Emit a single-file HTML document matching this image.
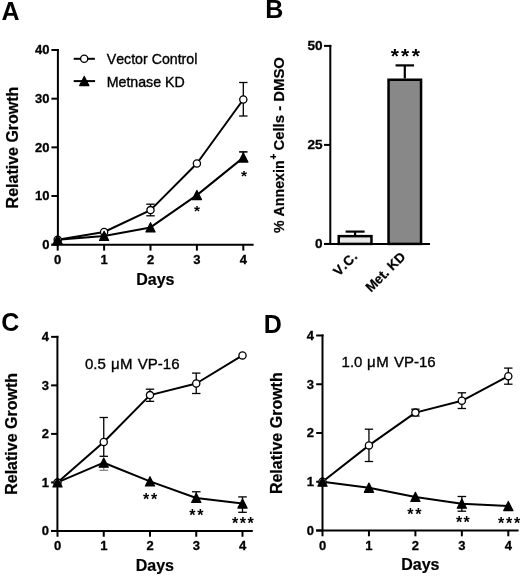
<!DOCTYPE html>
<html><head><meta charset="utf-8"><style>
html,body{margin:0;padding:0;background:#fff;}
svg{display:block;will-change:transform;font-family:"Liberation Sans", sans-serif;font-kerning:none;}
</style></head><body>
<svg width="520" height="576" viewBox="0 0 520 576">
<rect width="520" height="576" fill="#fff"/>
<text x="1.40" y="19.60" font-size="25" font-weight="bold" text-anchor="start" >A</text>
<line x1="57.90" y1="49.00" x2="57.90" y2="245.70" stroke="#000" stroke-width="2"/>
<line x1="51.40" y1="50.00" x2="58.90" y2="50.00" stroke="#000" stroke-width="2"/>
<text x="49.50" y="54.45" font-size="13.0" font-weight="bold" text-anchor="end" stroke="#000" stroke-width="0.3">40</text>
<line x1="51.40" y1="98.68" x2="57.90" y2="98.68" stroke="#000" stroke-width="2"/>
<text x="49.50" y="103.13" font-size="13.0" font-weight="bold" text-anchor="end" stroke="#000" stroke-width="0.3">30</text>
<line x1="51.40" y1="147.35" x2="57.90" y2="147.35" stroke="#000" stroke-width="2"/>
<text x="49.50" y="151.80" font-size="13.0" font-weight="bold" text-anchor="end" stroke="#000" stroke-width="0.3">20</text>
<line x1="51.40" y1="196.02" x2="57.90" y2="196.02" stroke="#000" stroke-width="2"/>
<text x="49.50" y="200.47" font-size="13.0" font-weight="bold" text-anchor="end" stroke="#000" stroke-width="0.3">10</text>
<line x1="51.40" y1="244.70" x2="57.90" y2="244.70" stroke="#000" stroke-width="2"/>
<text x="49.50" y="249.15" font-size="13.0" font-weight="bold" text-anchor="end" stroke="#000" stroke-width="0.3">0</text>
<line x1="51.40" y1="244.70" x2="253.60" y2="244.70" stroke="#000" stroke-width="2"/>
<line x1="57.70" y1="244.70" x2="57.70" y2="250.60" stroke="#000" stroke-width="2"/>
<text x="57.70" y="264.20" font-size="13.0" font-weight="bold" text-anchor="middle" stroke="#000" stroke-width="0.3">0</text>
<line x1="104.10" y1="244.70" x2="104.10" y2="250.60" stroke="#000" stroke-width="2"/>
<text x="104.10" y="264.20" font-size="13.0" font-weight="bold" text-anchor="middle" stroke="#000" stroke-width="0.3">1</text>
<line x1="150.50" y1="244.70" x2="150.50" y2="250.60" stroke="#000" stroke-width="2"/>
<text x="150.50" y="264.20" font-size="13.0" font-weight="bold" text-anchor="middle" stroke="#000" stroke-width="0.3">2</text>
<line x1="196.90" y1="244.70" x2="196.90" y2="250.60" stroke="#000" stroke-width="2"/>
<text x="196.90" y="264.20" font-size="13.0" font-weight="bold" text-anchor="middle" stroke="#000" stroke-width="0.3">3</text>
<line x1="243.30" y1="244.70" x2="243.30" y2="250.60" stroke="#000" stroke-width="2"/>
<text x="243.30" y="264.20" font-size="13.0" font-weight="bold" text-anchor="middle" stroke="#000" stroke-width="0.3">4</text>
<text x="155.40" y="284.70" font-size="16" font-weight="bold" text-anchor="middle" stroke="#000" stroke-width="0.2">Days</text>
<text transform="translate(17.5,147.5) rotate(-90)" font-size="16" font-weight="bold" text-anchor="middle" stroke="#000" stroke-width="0.2">Relative Growth</text>
<line x1="150.50" y1="210.10" x2="150.50" y2="204.20" stroke="#000" stroke-width="1.3"/>
<line x1="146.30" y1="204.20" x2="154.70" y2="204.20" stroke="#000" stroke-width="1.3"/>
<line x1="150.50" y1="210.10" x2="150.50" y2="215.80" stroke="#000" stroke-width="1.3"/>
<line x1="146.30" y1="215.80" x2="154.70" y2="215.80" stroke="#000" stroke-width="1.3"/>
<line x1="243.30" y1="99.50" x2="243.30" y2="82.50" stroke="#000" stroke-width="1.3"/>
<line x1="239.10" y1="82.50" x2="247.50" y2="82.50" stroke="#000" stroke-width="1.3"/>
<line x1="243.30" y1="99.50" x2="243.30" y2="116.00" stroke="#000" stroke-width="1.3"/>
<line x1="239.10" y1="116.00" x2="247.50" y2="116.00" stroke="#000" stroke-width="1.3"/>
<line x1="243.30" y1="157.60" x2="243.30" y2="151.90" stroke="#000" stroke-width="1.6"/>
<line x1="239.10" y1="151.90" x2="247.50" y2="151.90" stroke="#000" stroke-width="1.6"/>
<polyline points="57.70,239.80 104.10,232.00 150.50,210.10 196.90,163.50 243.30,99.50" fill="none" stroke="#000" stroke-width="2" stroke-linejoin="round"/>
<polyline points="57.70,239.80 104.10,236.00 150.50,227.40 196.90,195.10 243.30,157.60" fill="none" stroke="#000" stroke-width="2" stroke-linejoin="round"/>
<circle cx="57.70" cy="239.80" r="3.6" fill="#fff" stroke="#000" stroke-width="1.3"/>
<circle cx="104.10" cy="232.00" r="3.6" fill="#fff" stroke="#000" stroke-width="1.3"/>
<circle cx="150.50" cy="210.10" r="3.6" fill="#fff" stroke="#000" stroke-width="1.3"/>
<circle cx="196.90" cy="163.50" r="3.6" fill="#fff" stroke="#000" stroke-width="1.3"/>
<circle cx="243.30" cy="99.50" r="3.6" fill="#fff" stroke="#000" stroke-width="1.3"/>
<polygon points="57.70,235.10 62.30,244.30 53.10,244.30" fill="#000" stroke="#000" stroke-width="1.2" stroke-linejoin="round"/>
<polygon points="104.10,231.30 108.70,240.50 99.50,240.50" fill="#000" stroke="#000" stroke-width="1.2" stroke-linejoin="round"/>
<polygon points="150.50,222.70 155.10,231.90 145.90,231.90" fill="#000" stroke="#000" stroke-width="1.2" stroke-linejoin="round"/>
<polygon points="196.90,190.40 201.50,199.60 192.30,199.60" fill="#000" stroke="#000" stroke-width="1.2" stroke-linejoin="round"/>
<polygon points="243.30,152.90 247.90,162.10 238.70,162.10" fill="#000" stroke="#000" stroke-width="1.2" stroke-linejoin="round"/>
<text x="194.02" y="216.18" font-size="15.5" font-weight="bold" text-anchor="start" >*</text>
<text x="241.12" y="181.03" font-size="15.5" font-weight="bold" text-anchor="start" >*</text>
<line x1="73.70" y1="58.80" x2="94.90" y2="58.80" stroke="#000" stroke-width="2"/>
<circle cx="84.20" cy="58.80" r="3.6" fill="#fff" stroke="#000" stroke-width="1.3"/>
<line x1="73.70" y1="81.10" x2="95.10" y2="81.10" stroke="#000" stroke-width="2"/>
<polygon points="84.25,76.40 88.85,85.60 79.65,85.60" fill="#000" stroke="#000" stroke-width="1.2" stroke-linejoin="round"/>
<text x="106.70" y="64.00" font-size="14.2" font-weight="normal" text-anchor="start" stroke="#000" stroke-width="0.35">Vector Control</text>
<text x="106.70" y="86.60" font-size="14.2" font-weight="normal" text-anchor="start" stroke="#000" stroke-width="0.35">Metnase KD</text>
<text x="265.30" y="18.40" font-size="25" font-weight="bold" text-anchor="start" >B</text>
<line x1="330.30" y1="44.90" x2="330.30" y2="244.90" stroke="#000" stroke-width="2"/>
<line x1="324.00" y1="45.90" x2="331.30" y2="45.90" stroke="#000" stroke-width="2"/>
<text x="322.60" y="49.76" font-size="13.6" font-weight="bold" text-anchor="end" stroke="#000" stroke-width="0.3">50</text>
<line x1="324.00" y1="144.90" x2="330.30" y2="144.90" stroke="#000" stroke-width="2"/>
<text x="322.60" y="148.76" font-size="13.6" font-weight="bold" text-anchor="end" stroke="#000" stroke-width="0.3">25</text>
<line x1="324.00" y1="243.90" x2="330.30" y2="243.90" stroke="#000" stroke-width="2"/>
<text x="322.60" y="247.76" font-size="13.6" font-weight="bold" text-anchor="end" stroke="#000" stroke-width="0.3">0</text>
<line x1="324.00" y1="243.90" x2="430.00" y2="243.90" stroke="#000" stroke-width="2"/>
<rect x="338.75" y="236.15" width="32.7" height="7.75" fill="#e9e9e9" stroke="#000" stroke-width="2.5"/>
<rect x="388.55" y="79.75" width="32.5" height="164.15" fill="#888" stroke="#000" stroke-width="2.5"/>
<line x1="355.10" y1="235.00" x2="355.10" y2="231.60" stroke="#000" stroke-width="2.2"/>
<line x1="345.60" y1="231.60" x2="364.60" y2="231.60" stroke="#000" stroke-width="2.2"/>
<line x1="404.80" y1="78.50" x2="404.80" y2="65.40" stroke="#000" stroke-width="2.2"/>
<line x1="395.55" y1="65.40" x2="414.05" y2="65.40" stroke="#000" stroke-width="2.2"/>
<text x="390.66" y="62.61" font-size="21" font-weight="bold" text-anchor="start" >*</text>
<text x="401.11" y="62.61" font-size="21" font-weight="bold" text-anchor="start" >*</text>
<text x="411.66" y="62.61" font-size="21" font-weight="bold" text-anchor="start" >*</text>
<text transform="translate(338.76,276.68) rotate(-45)" font-size="13.4" font-weight="bold" letter-spacing="0.4" stroke="#000" stroke-width="0.25">V.C.</text>
<text transform="translate(370.98,292.82) rotate(-45)" font-size="13.4" font-weight="bold" stroke="#000" stroke-width="0.25">Met. KD</text>
<text transform="translate(284.3,0) rotate(-90)" font-size="14.5" font-weight="bold" stroke="#000" stroke-width="0.2"><tspan x="-232.95" y="0" font-size="14.2">% Annexin</tspan><tspan x="-159.6" y="-7.0" font-size="10">+</tspan><tspan x="-150.6" y="0" font-size="14.9">Cells - DMSO</tspan></text>
<text x="1.20" y="330.75" font-size="25" font-weight="bold" text-anchor="start" >C</text>
<line x1="57.40" y1="335.85" x2="57.40" y2="531.95" stroke="#000" stroke-width="2"/>
<line x1="51.10" y1="336.85" x2="58.40" y2="336.85" stroke="#000" stroke-width="2"/>
<text x="49.10" y="341.30" font-size="13.0" font-weight="bold" text-anchor="end" stroke="#000" stroke-width="0.3">4</text>
<line x1="51.10" y1="385.38" x2="57.40" y2="385.38" stroke="#000" stroke-width="2"/>
<text x="49.10" y="389.83" font-size="13.0" font-weight="bold" text-anchor="end" stroke="#000" stroke-width="0.3">3</text>
<line x1="51.10" y1="433.90" x2="57.40" y2="433.90" stroke="#000" stroke-width="2"/>
<text x="49.10" y="438.35" font-size="13.0" font-weight="bold" text-anchor="end" stroke="#000" stroke-width="0.3">2</text>
<line x1="51.10" y1="482.43" x2="57.40" y2="482.43" stroke="#000" stroke-width="2"/>
<text x="49.10" y="486.88" font-size="13.0" font-weight="bold" text-anchor="end" stroke="#000" stroke-width="0.3">1</text>
<line x1="51.10" y1="530.95" x2="57.40" y2="530.95" stroke="#000" stroke-width="2"/>
<text x="49.10" y="535.40" font-size="13.0" font-weight="bold" text-anchor="end" stroke="#000" stroke-width="0.3">0</text>
<line x1="51.10" y1="530.95" x2="252.80" y2="530.95" stroke="#000" stroke-width="2"/>
<line x1="57.50" y1="530.95" x2="57.50" y2="536.75" stroke="#000" stroke-width="2"/>
<text x="57.50" y="550.35" font-size="13.0" font-weight="bold" text-anchor="middle" stroke="#000" stroke-width="0.3">0</text>
<line x1="103.75" y1="530.95" x2="103.75" y2="536.75" stroke="#000" stroke-width="2"/>
<text x="103.75" y="550.35" font-size="13.0" font-weight="bold" text-anchor="middle" stroke="#000" stroke-width="0.3">1</text>
<line x1="150.00" y1="530.95" x2="150.00" y2="536.75" stroke="#000" stroke-width="2"/>
<text x="150.00" y="550.35" font-size="13.0" font-weight="bold" text-anchor="middle" stroke="#000" stroke-width="0.3">2</text>
<line x1="196.25" y1="530.95" x2="196.25" y2="536.75" stroke="#000" stroke-width="2"/>
<text x="196.25" y="550.35" font-size="13.0" font-weight="bold" text-anchor="middle" stroke="#000" stroke-width="0.3">3</text>
<line x1="242.50" y1="530.95" x2="242.50" y2="536.75" stroke="#000" stroke-width="2"/>
<text x="242.50" y="550.35" font-size="13.0" font-weight="bold" text-anchor="middle" stroke="#000" stroke-width="0.3">4</text>
<text x="154.90" y="570.55" font-size="16" font-weight="bold" text-anchor="middle" stroke="#000" stroke-width="0.2">Days</text>
<text transform="translate(17.3,433.9) rotate(-90)" font-size="16" font-weight="bold" text-anchor="middle" stroke="#000" stroke-width="0.2">Relative Growth</text>
<line x1="103.75" y1="442.00" x2="103.75" y2="417.50" stroke="#000" stroke-width="1.3"/>
<line x1="99.55" y1="417.50" x2="107.95" y2="417.50" stroke="#000" stroke-width="1.3"/>
<line x1="103.75" y1="442.00" x2="103.75" y2="456.30" stroke="#000" stroke-width="1.3"/>
<line x1="99.55" y1="456.30" x2="107.95" y2="456.30" stroke="#000" stroke-width="1.3"/>
<line x1="150.00" y1="395.10" x2="150.00" y2="389.20" stroke="#000" stroke-width="1.3"/>
<line x1="145.80" y1="389.20" x2="154.20" y2="389.20" stroke="#000" stroke-width="1.3"/>
<line x1="150.00" y1="395.10" x2="150.00" y2="401.35" stroke="#000" stroke-width="1.3"/>
<line x1="145.80" y1="401.35" x2="154.20" y2="401.35" stroke="#000" stroke-width="1.3"/>
<line x1="196.25" y1="383.50" x2="196.25" y2="373.10" stroke="#000" stroke-width="1.3"/>
<line x1="192.05" y1="373.10" x2="200.45" y2="373.10" stroke="#000" stroke-width="1.3"/>
<line x1="196.25" y1="383.50" x2="196.25" y2="393.50" stroke="#000" stroke-width="1.3"/>
<line x1="192.05" y1="393.50" x2="200.45" y2="393.50" stroke="#000" stroke-width="1.3"/>
<line x1="103.75" y1="462.70" x2="103.75" y2="470.30" stroke="#888" stroke-width="1.3"/>
<line x1="99.45" y1="470.30" x2="108.05" y2="470.30" stroke="#888" stroke-width="1.3"/>
<line x1="196.25" y1="498.00" x2="196.25" y2="491.80" stroke="#000" stroke-width="1.3"/>
<line x1="191.95" y1="491.80" x2="200.55" y2="491.80" stroke="#000" stroke-width="1.3"/>
<line x1="242.50" y1="503.60" x2="242.50" y2="496.90" stroke="#000" stroke-width="1.3"/>
<line x1="238.20" y1="496.90" x2="246.80" y2="496.90" stroke="#000" stroke-width="1.3"/>
<line x1="242.50" y1="503.60" x2="242.50" y2="512.30" stroke="#000" stroke-width="1.3"/>
<line x1="238.20" y1="512.30" x2="246.80" y2="512.30" stroke="#000" stroke-width="1.3"/>
<polyline points="57.50,482.40 103.75,442.00 150.00,395.10 196.25,383.50 242.50,355.40" fill="none" stroke="#000" stroke-width="2" stroke-linejoin="round"/>
<polyline points="57.50,482.40 103.75,462.70 150.00,481.40 196.25,498.00 242.50,503.60" fill="none" stroke="#000" stroke-width="2" stroke-linejoin="round"/>
<circle cx="57.50" cy="482.40" r="3.6" fill="#fff" stroke="#000" stroke-width="1.3"/>
<circle cx="103.75" cy="442.00" r="3.6" fill="#fff" stroke="#000" stroke-width="1.3"/>
<circle cx="150.00" cy="395.10" r="3.6" fill="#fff" stroke="#000" stroke-width="1.3"/>
<circle cx="196.25" cy="383.50" r="3.6" fill="#fff" stroke="#000" stroke-width="1.3"/>
<circle cx="242.50" cy="355.40" r="3.6" fill="#fff" stroke="#000" stroke-width="1.3"/>
<polygon points="57.50,477.70 62.10,486.90 52.90,486.90" fill="#000" stroke="#000" stroke-width="1.2" stroke-linejoin="round"/>
<polygon points="103.75,458.00 108.35,467.20 99.15,467.20" fill="#000" stroke="#000" stroke-width="1.2" stroke-linejoin="round"/>
<polygon points="150.00,476.70 154.60,485.90 145.40,485.90" fill="#000" stroke="#000" stroke-width="1.2" stroke-linejoin="round"/>
<polygon points="196.25,493.30 200.85,502.50 191.65,502.50" fill="#000" stroke="#000" stroke-width="1.2" stroke-linejoin="round"/>
<polygon points="242.50,498.90 247.10,508.10 237.90,508.10" fill="#000" stroke="#000" stroke-width="1.2" stroke-linejoin="round"/>
<text x="143.07" y="504.54" font-size="16" font-weight="bold" text-anchor="start" >*</text>
<text x="151.12" y="504.54" font-size="16" font-weight="bold" text-anchor="start" >*</text>
<text x="189.32" y="520.54" font-size="16" font-weight="bold" text-anchor="start" >*</text>
<text x="197.32" y="520.54" font-size="16" font-weight="bold" text-anchor="start" >*</text>
<text x="232.02" y="529.14" font-size="16" font-weight="bold" text-anchor="start" >*</text>
<text x="239.82" y="529.14" font-size="16" font-weight="bold" text-anchor="start" >*</text>
<text x="247.62" y="529.14" font-size="16" font-weight="bold" text-anchor="start" >*</text>
<text x="84.90" y="369.20" font-size="15" font-weight="normal" text-anchor="start" stroke="#000" stroke-width="0.35">0.5</text>
<text x="110.90" y="369.20" font-size="15" font-weight="normal" text-anchor="start" stroke="#000" stroke-width="0.35">μ</text>
<text x="119.90" y="369.20" font-size="15" font-weight="normal" text-anchor="start" stroke="#000" stroke-width="0.35">M</text>
<text x="137.80" y="369.20" font-size="15" font-weight="normal" text-anchor="start" stroke="#000" stroke-width="0.35">VP-16</text>
<text x="263.70" y="332.80" font-size="25" font-weight="bold" text-anchor="start" >D</text>
<line x1="322.50" y1="334.50" x2="322.50" y2="531.50" stroke="#000" stroke-width="2"/>
<line x1="316.20" y1="335.50" x2="323.50" y2="335.50" stroke="#000" stroke-width="2"/>
<text x="314.00" y="339.95" font-size="13.0" font-weight="bold" text-anchor="end" stroke="#000" stroke-width="0.3">4</text>
<line x1="316.20" y1="384.25" x2="322.50" y2="384.25" stroke="#000" stroke-width="2"/>
<text x="314.00" y="388.70" font-size="13.0" font-weight="bold" text-anchor="end" stroke="#000" stroke-width="0.3">3</text>
<line x1="316.20" y1="433.00" x2="322.50" y2="433.00" stroke="#000" stroke-width="2"/>
<text x="314.00" y="437.45" font-size="13.0" font-weight="bold" text-anchor="end" stroke="#000" stroke-width="0.3">2</text>
<line x1="316.20" y1="481.75" x2="322.50" y2="481.75" stroke="#000" stroke-width="2"/>
<text x="314.00" y="486.20" font-size="13.0" font-weight="bold" text-anchor="end" stroke="#000" stroke-width="0.3">1</text>
<line x1="316.20" y1="530.50" x2="322.50" y2="530.50" stroke="#000" stroke-width="2"/>
<text x="314.00" y="534.95" font-size="13.0" font-weight="bold" text-anchor="end" stroke="#000" stroke-width="0.3">0</text>
<line x1="316.20" y1="530.50" x2="518.60" y2="530.50" stroke="#000" stroke-width="2"/>
<line x1="322.50" y1="530.50" x2="322.50" y2="536.30" stroke="#000" stroke-width="2"/>
<text x="322.50" y="549.90" font-size="13.0" font-weight="bold" text-anchor="middle" stroke="#000" stroke-width="0.3">0</text>
<line x1="368.95" y1="530.50" x2="368.95" y2="536.30" stroke="#000" stroke-width="2"/>
<text x="368.95" y="549.90" font-size="13.0" font-weight="bold" text-anchor="middle" stroke="#000" stroke-width="0.3">1</text>
<line x1="415.40" y1="530.50" x2="415.40" y2="536.30" stroke="#000" stroke-width="2"/>
<text x="415.40" y="549.90" font-size="13.0" font-weight="bold" text-anchor="middle" stroke="#000" stroke-width="0.3">2</text>
<line x1="461.85" y1="530.50" x2="461.85" y2="536.30" stroke="#000" stroke-width="2"/>
<text x="461.85" y="549.90" font-size="13.0" font-weight="bold" text-anchor="middle" stroke="#000" stroke-width="0.3">3</text>
<line x1="508.30" y1="530.50" x2="508.30" y2="536.30" stroke="#000" stroke-width="2"/>
<text x="508.30" y="549.90" font-size="13.0" font-weight="bold" text-anchor="middle" stroke="#000" stroke-width="0.3">4</text>
<text x="420.30" y="570.10" font-size="16" font-weight="bold" text-anchor="middle" stroke="#000" stroke-width="0.2">Days</text>
<text transform="translate(282.2,433.2) rotate(-90)" font-size="16" font-weight="bold" text-anchor="middle" stroke="#000" stroke-width="0.2">Relative Growth</text>
<line x1="368.95" y1="445.40" x2="368.95" y2="429.20" stroke="#000" stroke-width="1.3"/>
<line x1="364.75" y1="429.20" x2="373.15" y2="429.20" stroke="#000" stroke-width="1.3"/>
<line x1="368.95" y1="445.40" x2="368.95" y2="461.50" stroke="#000" stroke-width="1.3"/>
<line x1="364.75" y1="461.50" x2="373.15" y2="461.50" stroke="#000" stroke-width="1.3"/>
<line x1="415.40" y1="412.60" x2="415.40" y2="409.20" stroke="#000" stroke-width="1.3"/>
<line x1="411.20" y1="409.20" x2="419.60" y2="409.20" stroke="#000" stroke-width="1.3"/>
<line x1="415.40" y1="412.60" x2="415.40" y2="416.00" stroke="#000" stroke-width="1.3"/>
<line x1="411.20" y1="416.00" x2="419.60" y2="416.00" stroke="#000" stroke-width="1.3"/>
<line x1="461.85" y1="400.80" x2="461.85" y2="392.80" stroke="#000" stroke-width="1.3"/>
<line x1="457.65" y1="392.80" x2="466.05" y2="392.80" stroke="#000" stroke-width="1.3"/>
<line x1="461.85" y1="400.80" x2="461.85" y2="408.50" stroke="#000" stroke-width="1.3"/>
<line x1="457.65" y1="408.50" x2="466.05" y2="408.50" stroke="#000" stroke-width="1.3"/>
<line x1="508.30" y1="376.20" x2="508.30" y2="368.10" stroke="#000" stroke-width="1.3"/>
<line x1="504.10" y1="368.10" x2="512.50" y2="368.10" stroke="#000" stroke-width="1.3"/>
<line x1="508.30" y1="376.20" x2="508.30" y2="384.20" stroke="#000" stroke-width="1.3"/>
<line x1="504.10" y1="384.20" x2="512.50" y2="384.20" stroke="#000" stroke-width="1.3"/>
<line x1="461.85" y1="503.70" x2="461.85" y2="496.50" stroke="#000" stroke-width="1.3"/>
<line x1="457.55" y1="496.50" x2="466.15" y2="496.50" stroke="#000" stroke-width="1.3"/>
<line x1="461.85" y1="503.70" x2="461.85" y2="511.20" stroke="#000" stroke-width="1.3"/>
<line x1="457.55" y1="511.20" x2="466.15" y2="511.20" stroke="#000" stroke-width="1.3"/>
<polyline points="322.50,481.75 368.95,445.40 415.40,412.60 461.85,400.80 508.30,376.20" fill="none" stroke="#000" stroke-width="2" stroke-linejoin="round"/>
<polyline points="322.50,481.75 368.95,487.80 415.40,497.00 461.85,503.70 508.30,506.10" fill="none" stroke="#000" stroke-width="2" stroke-linejoin="round"/>
<circle cx="322.50" cy="481.75" r="3.6" fill="#fff" stroke="#000" stroke-width="1.3"/>
<circle cx="368.95" cy="445.40" r="3.6" fill="#fff" stroke="#000" stroke-width="1.3"/>
<circle cx="415.40" cy="412.60" r="3.6" fill="#fff" stroke="#000" stroke-width="1.3"/>
<circle cx="461.85" cy="400.80" r="3.6" fill="#fff" stroke="#000" stroke-width="1.3"/>
<circle cx="508.30" cy="376.20" r="3.6" fill="#fff" stroke="#000" stroke-width="1.3"/>
<polygon points="322.50,477.05 327.10,486.25 317.90,486.25" fill="#000" stroke="#000" stroke-width="1.2" stroke-linejoin="round"/>
<polygon points="368.95,483.10 373.55,492.30 364.35,492.30" fill="#000" stroke="#000" stroke-width="1.2" stroke-linejoin="round"/>
<polygon points="415.40,492.30 420.00,501.50 410.80,501.50" fill="#000" stroke="#000" stroke-width="1.2" stroke-linejoin="round"/>
<polygon points="461.85,499.00 466.45,508.20 457.25,508.20" fill="#000" stroke="#000" stroke-width="1.2" stroke-linejoin="round"/>
<polygon points="508.30,501.40 512.90,510.60 503.70,510.60" fill="#000" stroke="#000" stroke-width="1.2" stroke-linejoin="round"/>
<text x="407.27" y="519.69" font-size="16" font-weight="bold" text-anchor="start" >*</text>
<text x="415.22" y="519.69" font-size="16" font-weight="bold" text-anchor="start" >*</text>
<text x="455.92" y="528.34" font-size="16" font-weight="bold" text-anchor="start" >*</text>
<text x="463.52" y="528.34" font-size="16" font-weight="bold" text-anchor="start" >*</text>
<text x="497.92" y="529.04" font-size="16" font-weight="bold" text-anchor="start" >*</text>
<text x="505.92" y="529.04" font-size="16" font-weight="bold" text-anchor="start" >*</text>
<text x="513.92" y="529.04" font-size="16" font-weight="bold" text-anchor="start" >*</text>
<text x="341.60" y="367.30" font-size="15" font-weight="normal" text-anchor="start" stroke="#000" stroke-width="0.35">1.0</text>
<text x="367.00" y="367.30" font-size="15" font-weight="normal" text-anchor="start" stroke="#000" stroke-width="0.35">μ</text>
<text x="376.30" y="367.30" font-size="15" font-weight="normal" text-anchor="start" stroke="#000" stroke-width="0.35">M</text>
<text x="393.90" y="367.30" font-size="15" font-weight="normal" text-anchor="start" stroke="#000" stroke-width="0.35">VP-16</text>
</svg>
</body></html>
